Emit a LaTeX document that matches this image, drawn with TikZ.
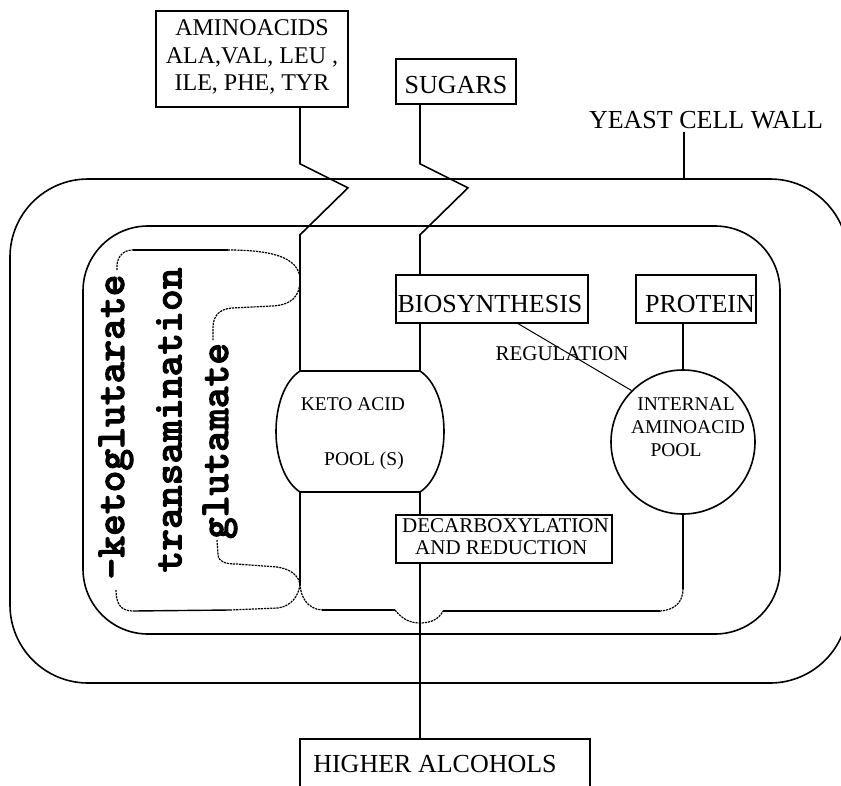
\documentclass[tikz,border=0pt]{standalone}
\usepackage{fontspec}
\setmainfont{Liberation Serif}
\newfontfamily\slabfont{lmmonolt10-bold.otf}[FakeBold=2.2]
\usetikzlibrary{calc}
\begin{document}
\begin{tikzpicture}[x=1pt,y=-1pt,
  ln/.style={line width=1.6pt},
  box/.style={draw,line width=1.6pt,fill=white,inner sep=0pt,rectangle},
  dsh/.style={line width=1.2pt,dash pattern=on 2.2pt off 0.9pt},
  sld/.style={line width=1.4pt},
  reg/.style={line width=1pt},
  txt/.style={inner sep=0pt},
  bigf/.style={txt,font=\fontsize{26}{30}\selectfont},
  midf/.style={txt,font=\fontsize{21}{24}\selectfont},
  smlf/.style={txt,font=\fontsize{19.5}{22}\selectfont},
  rot/.style={txt,rotate=90,font=\slabfont\fontsize{41.5}{44}\selectfont}]
\useasboundingbox (0,0) rectangle (841,785);
\clip (0,0) rectangle (841,785);

% cell walls
\draw[ln,rounded corners=78pt] (10,179) rectangle (848,683);
\draw[ln,rounded corners=65pt] (83,226) rectangle (780,634);

% keto acid pool
\coordinate (kTL) at (300,371);
\coordinate (kTR) at (420,371);
\coordinate (kBL) at (300,492);
\coordinate (kBR) at (420,492);
\draw[ln,fill=white] (kTL) -- (kTR) .. controls (452,392) and (452,471) .. (kBR)
  -- (kBL) .. controls (268,471) and (268,392) .. (kTL);
\node[smlf] (ketoA) at (353,404) {KETO ACID};
\node[smlf] (ketoB) at (364,461) {POOL (S)};

% internal aminoacid pool
\node[draw,circle,ln,minimum size=144pt,inner sep=0pt] (pool) at (683,442) {};
\node[smlf] (intA) at (686,404) {INTERNAL};
\node[smlf] (intB) at (688,427) {AMINOACID};
\node[smlf] (intC) at (676,450) {POOL};

% boxes
\node[box,minimum width=192pt,minimum height=96pt] (amino) at (252,59) {};
\node[txt,font=\fontsize{24}{27.5}\selectfont,align=center] (aminoT) at (252,57)
  {AMINOACIDS\\ALA,VAL, LEU ,\\ILE, PHE, TYR};
\node[box,minimum width=120pt,minimum height=45pt] (sugars) at (456,81.5) {};
\node[bigf] (sugarsT) at (456,85) {SUGARS};
\node[bigf] (yeast) at (706,120) {YEAST CELL WALL};
\coordinate (wallT) at (684,179);

% connectors
\draw[ln] (kTL |- amino.south) -- ++(0,56) -- ++(48,24) -- ++(-48,47) -- (kTL);
\draw[ln] (kTR |- sugars.south) -- ++(0,59) -- ++(48,24) -- ++(-48,47) -- (kTR |- 0,275);
\draw[ln] ([yshift=-3pt]wallT |- yeast.south) -- (wallT);
\draw[ln] (kTR |- 0,323) -- (kTR);
\draw[ln] (kBR) -- (kBR |- 0,515);
\draw[ln] (kBR |- 0,563) -- (kBR |- 0,739);
\draw[ln] (kBL) -- (300,585) coordinate (xK);
\draw[ln] (pool.north |- 0,323) -- (pool.north);
\draw[ln] (pool.south) -- ++(0,74) coordinate (pB);
\draw[reg] (517,323) -- (pool.135);

\node[box,minimum width=192pt,minimum height=48pt] (biosyn) at (492,299) {};
\node[bigf] (biosynT) at (490,304) {BIOSYNTHESIS};
\node[box,minimum width=120pt,minimum height=48pt] (protein) at (696,299) {};
\node[bigf] (proteinT) at (700,304) {PROTEIN};
\node[midf] (regT) at (562,354) {REGULATION};
\node[box,minimum width=216pt,minimum height=48pt] (decarb) at (504,539) {};
\node[midf,anchor=west] (decA) at (402,526) {DECARBOXYLATION};
\node[midf,anchor=west] (decB) at (415,548) {AND REDUCTION};
\node[box,minimum width=290pt,minimum height=102pt] (higher) at (445,790) {};
\node[bigf] (higherT) at (435,764) {HIGHER ALCOHOLS};

% transamination brackets
\draw[dsh] (117,270) .. controls (116,258) and (122,250) .. (133,250);
\draw[sld] (133,250) -- (228,250);
\draw[dsh] (228,250) .. controls (268,250) and (300,256) .. (300,280)
  .. controls (300,296) and (292,305) .. (272,306) -- (232,308)
  .. controls (219,309) and (213,316) .. (213,328) -- (213,340);
\draw[dsh] (217,540) -- (218,555) .. controls (219,562) and (225,564) .. (237,564)
  -- (277,567) .. controls (291,569) and (299,576) .. (xK)
  .. controls (301,598) and (308,609) .. (322,610);
\draw[sld] (322,610) -- (395,610);
\draw[dsh] (395,610) .. controls (402,619) and (410,623) .. (420,623)
  .. controls (431,623) and (439,619) .. (443,611);
\draw[sld] (443,611) -- (660,611);
\draw[dsh] (660,611) .. controls (676,610) and (683,601) .. (pB);
\draw[dsh] (116,590) .. controls (116,604) and (121,611) .. (133,611);
\draw[sld] (133,611) -- (230,610);
\draw[dsh] (230,610) -- (278,608) .. controls (291,606) and (298,597) .. (xK);

\node[rot] (kg) at (116,427) {-ketoglutarate};
\node[rot] (tr) at (169,420) {transamination};
\node[rot] (gl) at (220,441) {glutamate};
\end{tikzpicture}
\end{document}
